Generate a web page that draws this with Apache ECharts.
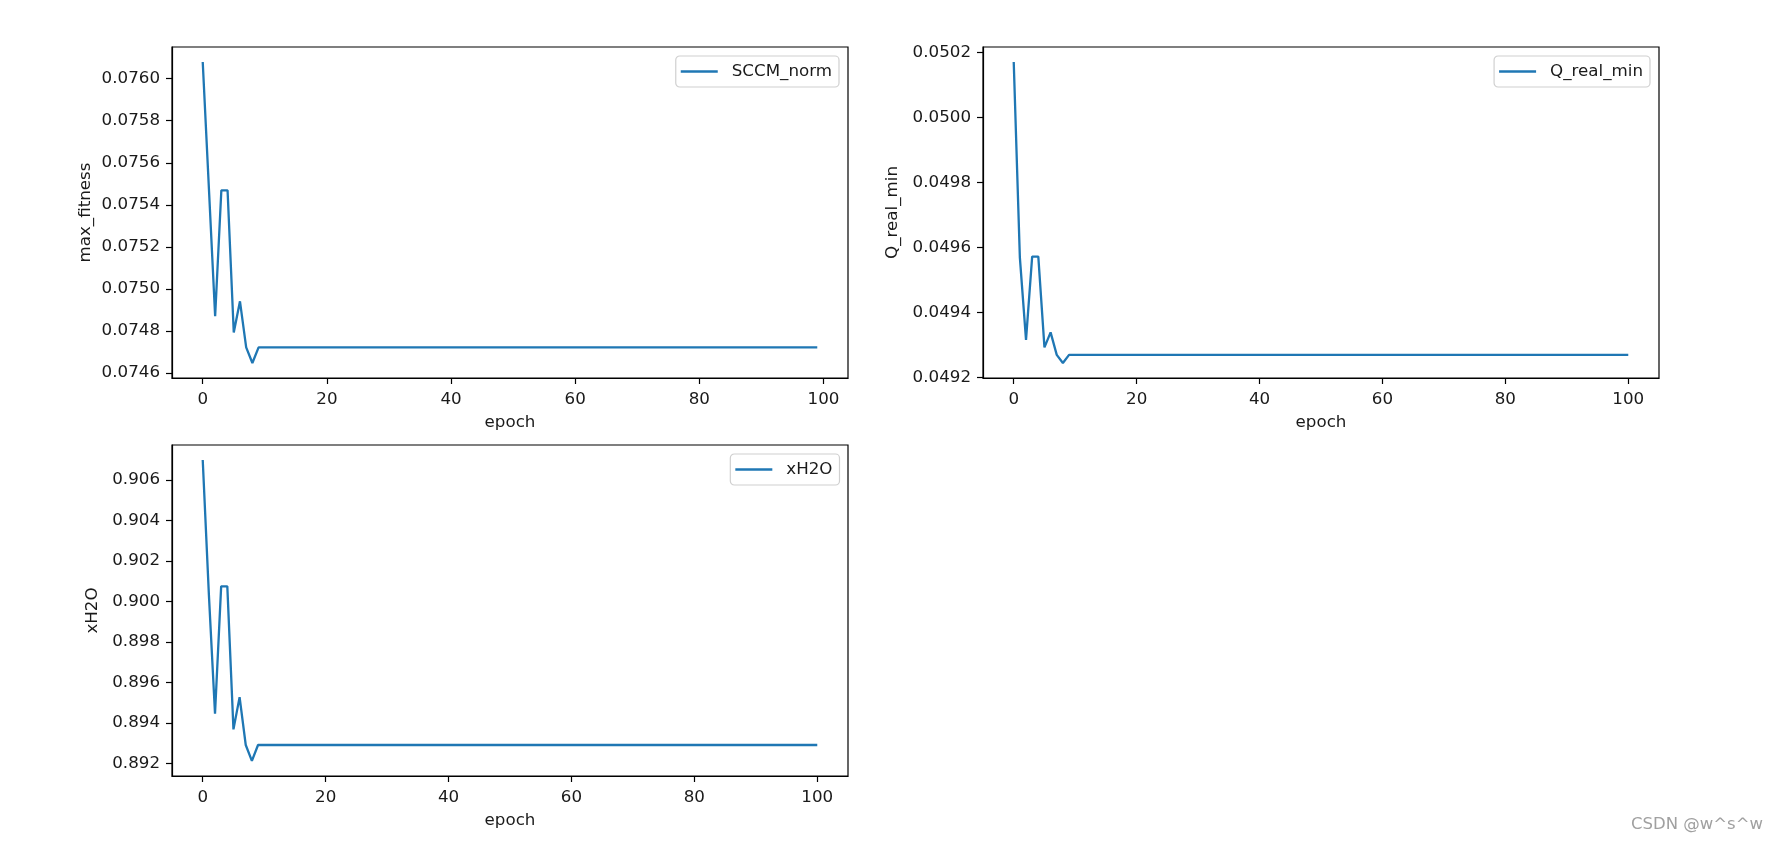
<!DOCTYPE html>
<html>
<head>
<meta charset="utf-8">
<script src="https://cdn.jsdelivr.net/npm/echarts@6/dist/echarts.min.js"></script>
<style>
html,body{margin:0;padding:0;background:#fff;}
#chart{width:1779px;height:844px;}
</style>
</head>
<body>
<div id="chart"></div>
<script>
// ---- data ----
const sccmNorm = [
  0.076079, 0.075475, 0.074870, 0.075469, 0.075469, 0.074793, 0.074941, 0.074722, 0.074648,
  0.074722, 0.074722, 0.074722, 0.074722, 0.074722, 0.074722, 0.074722, 0.074722, 0.074722, 0.074722,
  0.074722, 0.074722, 0.074722, 0.074722, 0.074722, 0.074722, 0.074722, 0.074722, 0.074722, 0.074722,
  0.074722, 0.074722, 0.074722, 0.074722, 0.074722, 0.074722, 0.074722, 0.074722, 0.074722, 0.074722,
  0.074722, 0.074722, 0.074722, 0.074722, 0.074722, 0.074722, 0.074722, 0.074722, 0.074722, 0.074722,
  0.074722, 0.074722, 0.074722, 0.074722, 0.074722, 0.074722, 0.074722, 0.074722, 0.074722, 0.074722,
  0.074722, 0.074722, 0.074722, 0.074722, 0.074722, 0.074722, 0.074722, 0.074722, 0.074722, 0.074722,
  0.074722, 0.074722, 0.074722, 0.074722, 0.074722, 0.074722, 0.074722, 0.074722, 0.074722, 0.074722,
  0.074722, 0.074722, 0.074722, 0.074722, 0.074722, 0.074722, 0.074722, 0.074722, 0.074722, 0.074722,
  0.074722, 0.074722, 0.074722, 0.074722, 0.074722, 0.074722, 0.074722, 0.074722, 0.074722, 0.074722,
  0.074722
];
const qRealMin = [
  0.050170, 0.049568, 0.049315, 0.049571, 0.049571, 0.049292, 0.049338, 0.049269, 0.049244,
  0.049269, 0.049269, 0.049269, 0.049269, 0.049269, 0.049269, 0.049269, 0.049269, 0.049269, 0.049269,
  0.049269, 0.049269, 0.049269, 0.049269, 0.049269, 0.049269, 0.049269, 0.049269, 0.049269, 0.049269,
  0.049269, 0.049269, 0.049269, 0.049269, 0.049269, 0.049269, 0.049269, 0.049269, 0.049269, 0.049269,
  0.049269, 0.049269, 0.049269, 0.049269, 0.049269, 0.049269, 0.049269, 0.049269, 0.049269, 0.049269,
  0.049269, 0.049269, 0.049269, 0.049269, 0.049269, 0.049269, 0.049269, 0.049269, 0.049269, 0.049269,
  0.049269, 0.049269, 0.049269, 0.049269, 0.049269, 0.049269, 0.049269, 0.049269, 0.049269, 0.049269,
  0.049269, 0.049269, 0.049269, 0.049269, 0.049269, 0.049269, 0.049269, 0.049269, 0.049269, 0.049269,
  0.049269, 0.049269, 0.049269, 0.049269, 0.049269, 0.049269, 0.049269, 0.049269, 0.049269, 0.049269,
  0.049269, 0.049269, 0.049269, 0.049269, 0.049269, 0.049269, 0.049269, 0.049269, 0.049269, 0.049269,
  0.049269, 0.049269
];
const xH2O = [
  0.906986, 0.900347, 0.894447, 0.900741, 0.900741, 0.893675, 0.895269, 0.892902, 0.892114,
  0.892902, 0.892902, 0.892902, 0.892902, 0.892902, 0.892902, 0.892902, 0.892902, 0.892902, 0.892902,
  0.892902, 0.892902, 0.892902, 0.892902, 0.892902, 0.892902, 0.892902, 0.892902, 0.892902, 0.892902,
  0.892902, 0.892902, 0.892902, 0.892902, 0.892902, 0.892902, 0.892902, 0.892902, 0.892902, 0.892902,
  0.892902, 0.892902, 0.892902, 0.892902, 0.892902, 0.892902, 0.892902, 0.892902, 0.892902, 0.892902,
  0.892902, 0.892902, 0.892902, 0.892902, 0.892902, 0.892902, 0.892902, 0.892902, 0.892902, 0.892902,
  0.892902, 0.892902, 0.892902, 0.892902, 0.892902, 0.892902, 0.892902, 0.892902, 0.892902, 0.892902,
  0.892902, 0.892902, 0.892902, 0.892902, 0.892902, 0.892902, 0.892902, 0.892902, 0.892902, 0.892902,
  0.892902, 0.892902, 0.892902, 0.892902, 0.892902, 0.892902, 0.892902, 0.892902, 0.892902, 0.892902,
  0.892902, 0.892902, 0.892902, 0.892902, 0.892902, 0.892902, 0.892902, 0.892902, 0.892902, 0.892902,
  0.892902, 0.892902
];
const xTicks = [0, 20, 40, 60, 80, 100];
const y1Ticks = [0.0746, 0.0748, 0.0750, 0.0752, 0.0754, 0.0756, 0.0758, 0.0760];
const y2Ticks = [0.0492, 0.0494, 0.0496, 0.0498, 0.0500, 0.0502];
const y3Ticks = [0.892, 0.894, 0.896, 0.898, 0.900, 0.902, 0.904, 0.906];

// ---- helpers ----
const FONT = 'DejaVu Sans';
const FS = 16.7;
const TXT = '#1a1a1a';
function pairs(arr) { return arr.map((v, i) => [i, v]); }
function ext(arr, margin) {
  const lo = Math.min(...arr), hi = Math.max(...arr), r = hi - lo;
  return [lo - r * margin, hi + r * margin];
}
const grids = [
  {left: 172, top: 47, width: 676, height: 331},
  {left: 983, top: 47, width: 676, height: 331},
  {left: 172, top: 445, width: 676, height: 331}
];
const seriesDefs = [
  {name: 'SCCM_norm', data: sccmNorm, ylabel: 'max_fitness', ticks: y1Ticks, dec: 4, nameGap: 78, legendRight: 940, legendTop: 56},
  {name: 'Q_real_min', data: qRealMin, ylabel: 'Q_real_min', ticks: y2Ticks, dec: 4, nameGap: 82, legendRight: 129, legendTop: 56},
  {name: 'xH2O', data: xH2O, ylabel: 'xH2O', ticks: y3Ticks, dec: 3, nameGap: 71, legendRight: 939.5, legendTop: 454}
];

const option = {
  animation: false,
  backgroundColor: '#ffffff',
  textStyle: {fontFamily: FONT},
  grid: grids.map(g => Object.assign({show: true, borderColor: '#000', borderWidth: 1.2, backgroundColor: 'transparent', containLabel: false}, g)),
  xAxis: seriesDefs.map((s, i) => {
    const xr = ext([0, s.data.length - 1], 0.05);
    return {
      type: 'value', gridIndex: i, min: xr[0], max: xr[1],
      name: 'epoch', nameLocation: 'middle', nameGap: 36,
      nameTextStyle: {fontFamily: FONT, fontSize: FS, color: TXT},
      axisLine: {show: true, onZero: false, lineStyle: {color: '#000', width: 1.2}},
      axisTick: {show: true, length: 6, lineStyle: {color: '#000', width: 1.2}, customValues: xTicks},
      axisLabel: {fontFamily: FONT, fontSize: FS, color: TXT, margin: 13, customValues: xTicks,
                  formatter: v => String(v)},
      splitLine: {show: false}
    };
  }),
  yAxis: seriesDefs.map((s, i) => {
    const yr = ext(s.data, 0.05);
    return {
      type: 'value', gridIndex: i, min: yr[0], max: yr[1],
      name: s.ylabel, nameLocation: 'middle', nameGap: s.nameGap, nameRotate: 90,
      nameTextStyle: {fontFamily: FONT, fontSize: FS, color: TXT},
      axisLine: {show: true, onZero: false, lineStyle: {color: '#000', width: 1.2}},
      axisTick: {show: true, length: 6, lineStyle: {color: '#000', width: 1.2}, customValues: s.ticks},
      axisLabel: {fontFamily: FONT, fontSize: FS, color: TXT, margin: 12, customValues: s.ticks,
                  formatter: v => Number(v).toFixed(s.dec)},
      splitLine: {show: false}
    };
  }),
  legend: seriesDefs.map(s => ({
    data: [s.name],
    right: s.legendRight, top: s.legendTop,
    orient: 'vertical',
    icon: 'rect', itemWidth: 37, itemHeight: 2.4,
    padding: [7, 7, 7, 5],
    backgroundColor: '#ffffff',
    borderColor: '#d0d0d0', borderWidth: 1.2, borderRadius: 4,
    textStyle: {fontFamily: FONT, fontSize: FS, color: TXT, padding: [0, 0, 0, 9]}
  })),
  series: seriesDefs.map((s, i) => ({
    name: s.name, type: 'line', xAxisIndex: i, yAxisIndex: i,
    data: pairs(s.data), symbol: 'none', showSymbol: false,
    color: '#1f77b4',
    lineStyle: {color: '#1f77b4', width: 2.3},
    clip: true
  })),
  graphic: [{
    type: 'text', right: 16, top: 816,
    style: {text: 'CSDN @w^s^w', fontFamily: FONT, fontSize: 16.5, fill: '#a0a0a0'}
  }]
};
const chart = echarts.init(document.getElementById('chart'), null, {renderer: 'canvas'});
chart.setOption(option);
</script>
</body>
</html>
